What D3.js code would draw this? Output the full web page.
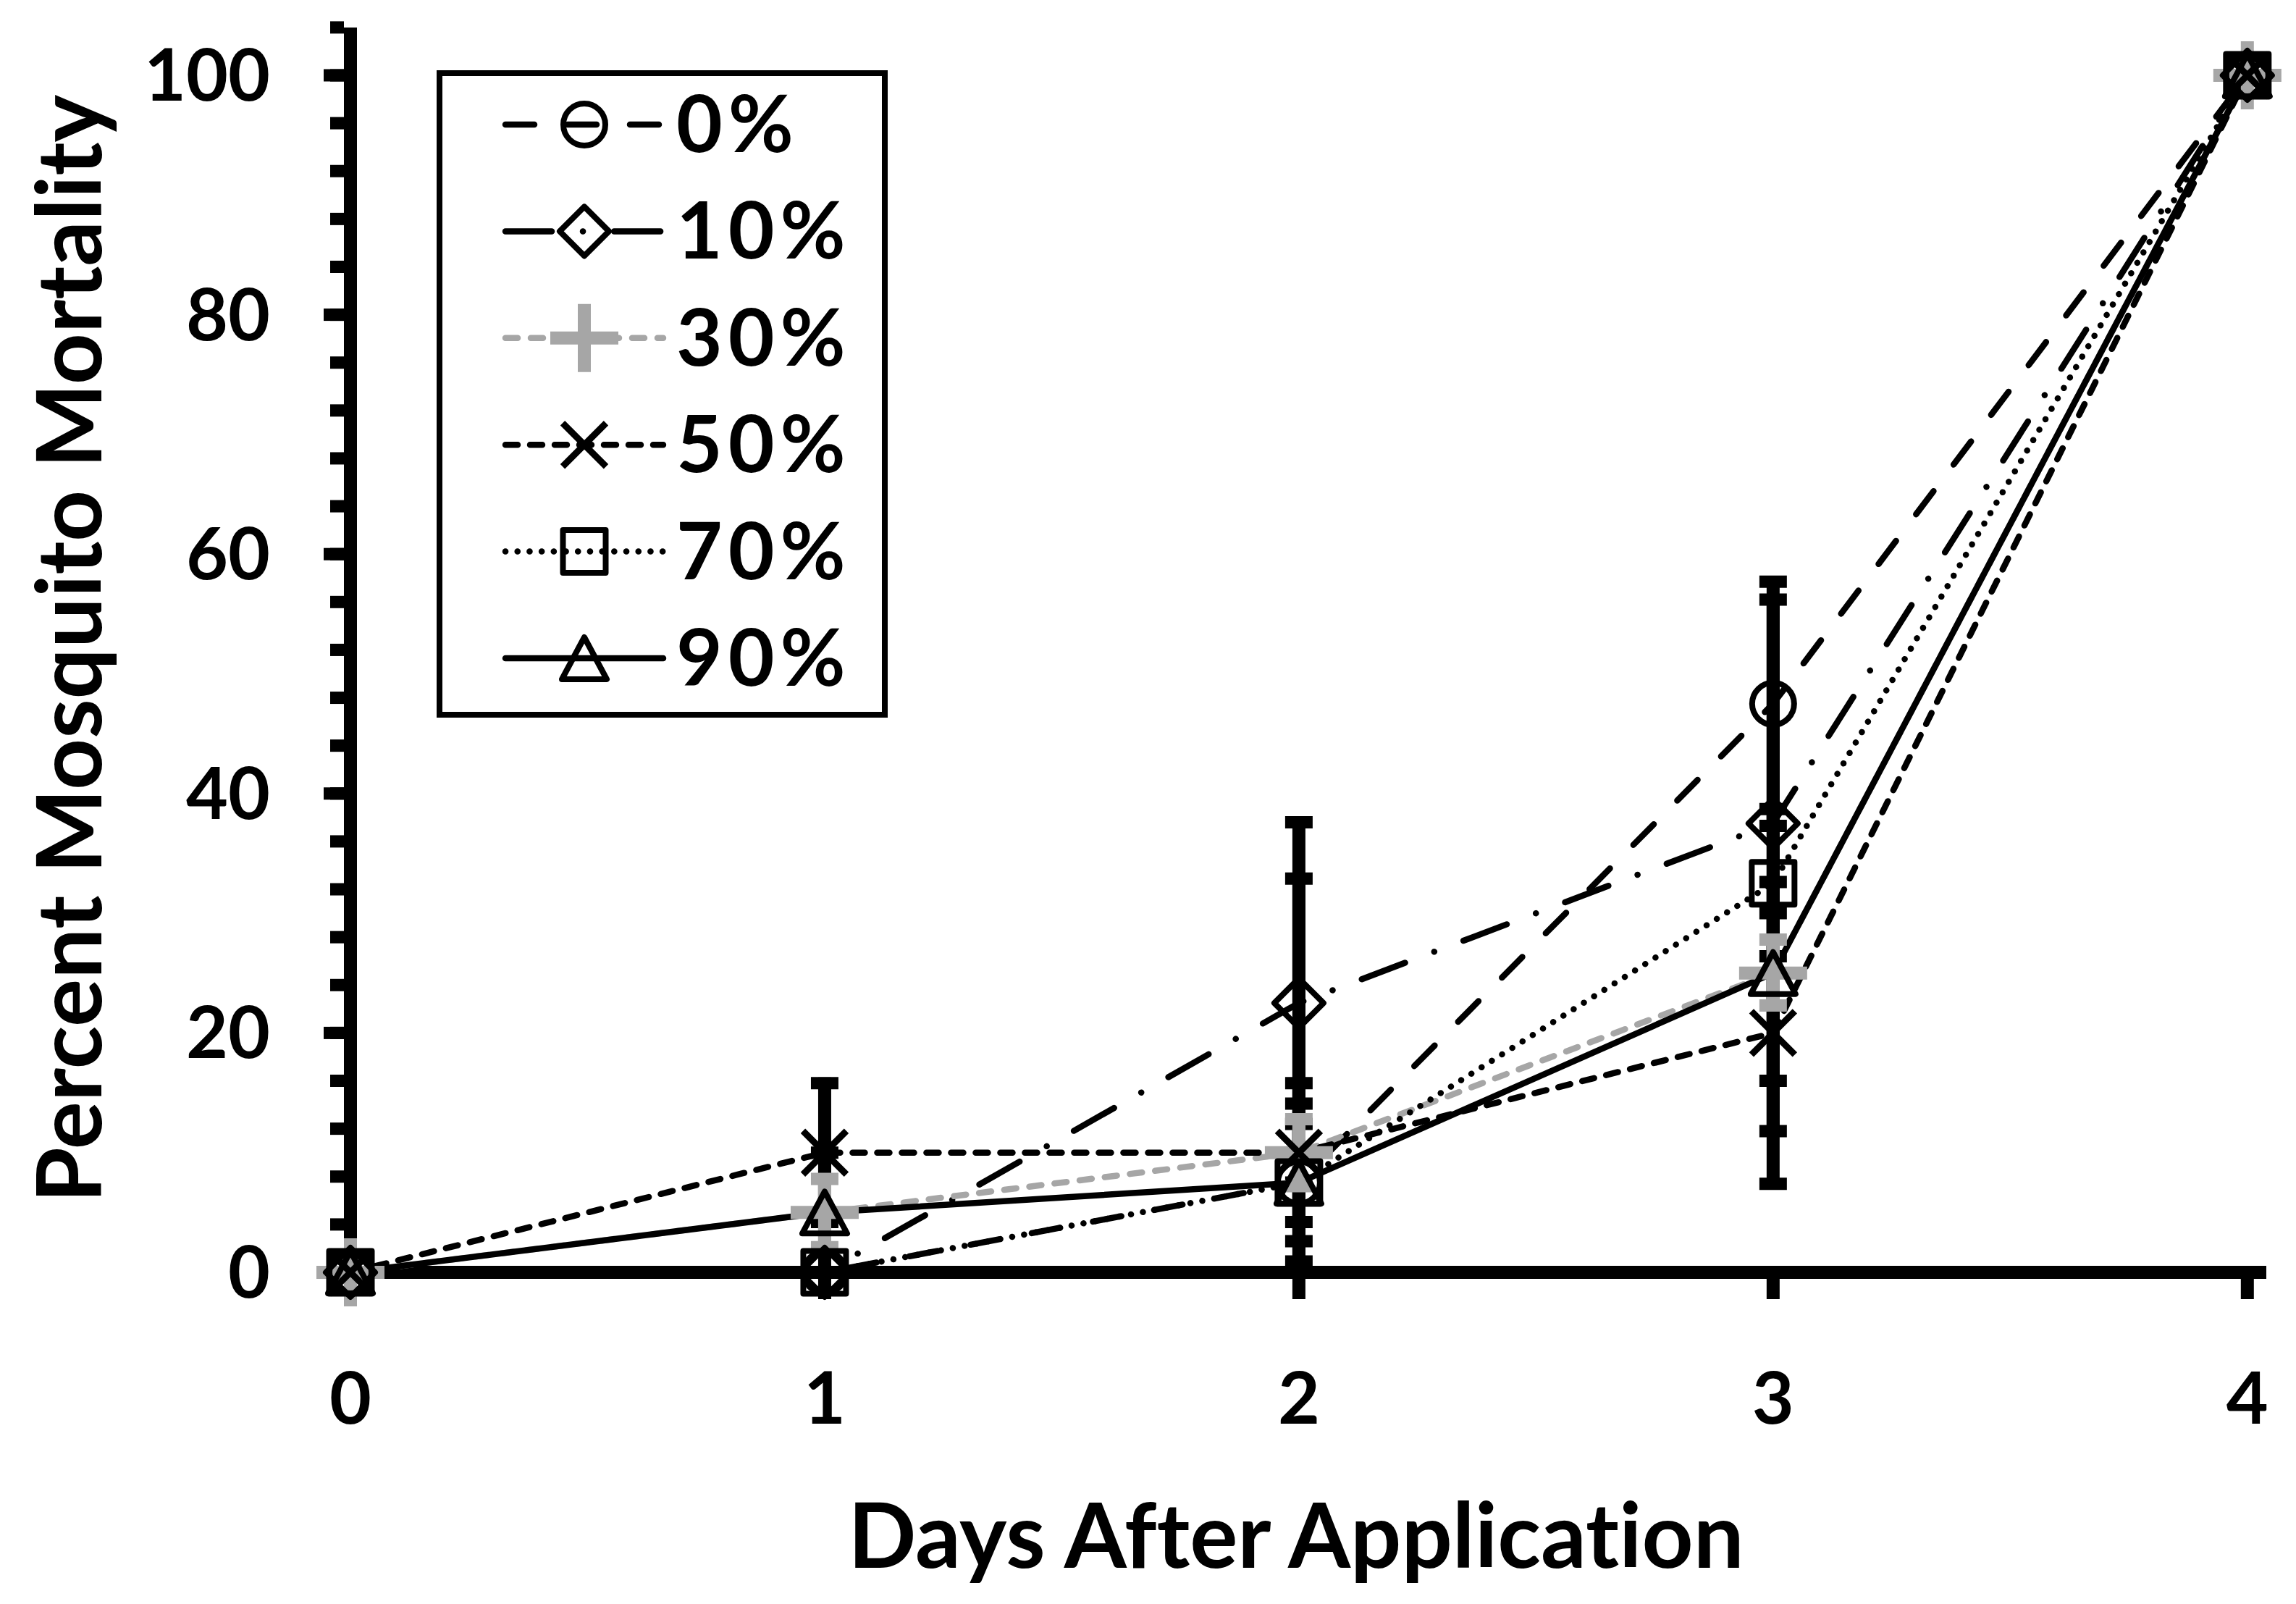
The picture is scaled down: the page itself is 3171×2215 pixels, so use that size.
<!DOCTYPE html>
<html>
<head>
<meta charset="utf-8">
<script src="https://cdn.jsdelivr.net/npm/d3@7"></script>
<style>
  body { margin: 0; background: #fff; }
  text { font-family: Lato, "Open Sans", sans-serif; font-weight: bold; fill: #000;
         font-variant-ligatures: none; font-feature-settings: "liga" 0, "clig" 0; }
</style>
</head>
<body>
<svg id="chart" width="3171" height="2215"></svg>
<script>
(function() {
    var width = 3171, height = 2215

    // data
    var days = [0, 1, 2, 3, 4]
    var labels = ["0%", "10%", "30%", "50%", "70%", "90%"]
    var m0  = [0, 0, 7.5, 47.5, 100]
    var m10 = [0, 0, 22.5, 37.5, 100]
    var m30 = [0, 5, 10, 25, 100]
    var m50 = [0, 10, 10, 20, 100]
    var m70 = [0, 0, 7.5, 32.5, 100]
    var m90 = [0, 5, 7.5, 25, 100]
    // error bar ends (low / high)
    var lo0  = [0, 0, 2.6, 37.3, 100],  hi0  = [0, 0, 12.4, 57.7, 100]
    var lo10 = [0, 0, 7.5, 16.0, 100],  hi10 = [0, 0, 37.6, 56.2, 100]
    var lo30 = [0, 2.1, 7.2, 22.3, 100], hi30 = [0, 7.8, 12.8, 27.8, 100]
    var lo50 = [0, 4.2, 4.2, 7.4, 100], hi50 = [0, 15.8, 15.8, 32.6, 100]
    var lo70 = [0, 0, 0.9, 26.4, 100],  hi70 = [0, 0, 14.1, 38.7, 100]
    var lo90 = [0, 0, 0, 11.8, 100],    hi90 = [0, 10, 32.9, 30.0, 100]
    var yTicks = [0, 20, 40, 60, 80, 100]

    var gray = "#a6a6a6"
    var series = [
        {name: labels[0], vals: m0,  lo: lo0,  hi: hi0,  color: "#000", dash: "40,46",          marker: "circle"},
        {name: labels[1], vals: m10, lo: lo10, hi: hi10, color: "#000", dash: "64,43,0.1,43",   marker: "diamond"},
        {name: labels[2], vals: m30, lo: lo30, hi: hi30, color: gray,   dash: "17,18",          marker: "plus"},
        {name: labels[3], vals: m50, lo: lo50, hi: hi50, color: "#000", dash: "17,17",          marker: "x"},
        {name: labels[4], vals: m70, lo: lo70, hi: hi70, color: "#000", dash: "0.1,16.6",       marker: "square"},
        {name: labels[5], vals: m90, lo: lo90, hi: hi90, color: "#000", dash: null,             marker: "triangle"}
    ]

    var x = d3.scaleLinear().domain([0, 4.04]).range([484, 3130])
    var y = d3.scaleLinear().domain([0, 104]).range([1757, 1757 - 104 * 16.53])

    var svg = d3.select("#chart")
    svg.append("rect").attr("width", width).attr("height", height).attr("fill", "#fff")

    var markerPath = {
        circle: "M-29,0A29,29 0 1,0 29,0A29,29 0 1,0 -29,0Z",
        diamond: "M0,-34L34,0L0,34L-34,0Z",
        square: "M-29.5,-29.5H29.5V29.5H-29.5Z",
        triangle: "M0,-29L31,29L-31,29Z",
        x: "M-30,-30L30,30M-30,30L30,-30",
        plus: "M-47,0H47M0,-47V47"
    }
    function drawMarker(g, s, cx, cy) {
        var p = g.append("path")
            .attr("transform", "translate(" + cx + "," + cy + ")")
            .attr("d", markerPath[s.marker])
            .attr("fill", "none")
            .attr("stroke", s.color)
        if (s.marker == "plus") p.attr("stroke-width", 18)
        else if (s.marker == "x") p.attr("stroke-width", 9)
        else p.attr("stroke-width", 8).attr("stroke-linejoin", "round")
    }

    // axes
    var axes = svg.append("g")
    // minor y ticks every 4
    axes.selectAll(".ymin").data(d3.range(0, 105, 4)).join("line")
        .attr("x1", 475).attr("x2", 475 - 19)
        .attr("y1", (d) => y(d)).attr("y2", (d) => y(d))
        .attr("stroke", "#000").attr("stroke-width", 17)
    axes.selectAll(".ymaj").data(yTicks).join("line")
        .attr("x1", 475).attr("x2", 475 - 28)
        .attr("y1", (d) => y(d)).attr("y2", (d) => y(d))
        .attr("stroke", "#000").attr("stroke-width", 17)
    axes.append("line")
        .attr("x1", x(0)).attr("x2", x(0)).attr("y1", y(0) + 9).attr("y2", y(104))
        .attr("stroke", "#000").attr("stroke-width", 18)
    axes.append("line")
        .attr("x1", x(0)).attr("x2", x(4.04)).attr("y1", y(0)).attr("y2", y(0))
        .attr("stroke", "#000").attr("stroke-width", 18)
    axes.selectAll(".xt").data(days.slice(1)).join("line")
        .attr("x1", (d) => x(d)).attr("x2", (d) => x(d))
        .attr("y1", y(0)).attr("y2", y(0) + 37)
        .attr("stroke", "#000").attr("stroke-width", 18)

    axes.selectAll(".ylab").data(yTicks).join("text")
        .attr("x", 373).attr("y", (d) => y(d) + 35)
        .attr("text-anchor", "end").attr("font-size", 100)
        .text((d) => d)
    axes.selectAll(".xlab").data(days).join("text")
        .attr("x", (d) => x(d)).attr("y", 1966)
        .attr("text-anchor", "middle").attr("font-size", 100)
        .text((d) => d)

    axes.append("text")
        .attr("x", 1790).attr("y", 2165)
        .attr("text-anchor", "middle").attr("font-size", 124)
        .text("Days After Application")
    axes.append("text")
        .attr("transform", "translate(140,896) rotate(-90)")
        .attr("text-anchor", "middle").attr("font-size", 124)
        .text("Percent Mosquito Mortality")

    // series lines
    var line = d3.line().x((d, i) => x(days[i])).y((d) => y(d))
    var lines = svg.append("g")
    series.forEach(function(s) {
        var p = lines.append("path")
            .attr("d", line(s.vals))
            .attr("fill", "none")
            .attr("stroke", s.color)
            .attr("stroke-width", 8.5)
            .attr("stroke-linecap", "round")
        if (s.dash) p.attr("stroke-dasharray", s.dash)
    })

    // error bars, gray drawn on top
    var errs = svg.append("g")
    var order = [0, 1, 3, 4, 5, 2]
    order.forEach(function(k) {
        var s = series[k]
        days.forEach(function(d, i) {
            if (s.hi[i] - s.lo[i] <= 0) return
            var top = y(s.hi[i]), bot = y(Math.max(0, s.lo[i]))
            errs.append("line")
                .attr("x1", x(d)).attr("x2", x(d)).attr("y1", top - 8).attr("y2", bot + (s.lo[i] > 0 ? 8 : 0))
                .attr("stroke", s.color).attr("stroke-width", 18)
            ;[s.hi[i], s.lo[i]].forEach(function(v) {
                if (v == s.vals[i] || v <= 0) return
                errs.append("line")
                    .attr("x1", x(d) - 19).attr("x2", x(d) + 19)
                    .attr("y1", y(v)).attr("y2", y(v))
                    .attr("stroke", s.color).attr("stroke-width", 17)
            })
        })
    })

    // markers, gray plus first
    var marks = svg.append("g")
    ;[2, 0, 1, 3, 4, 5].forEach(function(k) {
        var s = series[k]
        days.forEach(function(d, i) { drawMarker(marks, s, x(d), y(s.vals[i])) })
    })

    // legend
    var leg = svg.append("g")
    leg.append("rect")
        .attr("x", 607).attr("y", 101).attr("width", 615).attr("height", 886)
        .attr("fill", "#fff").attr("stroke", "#000").attr("stroke-width", 8)
    series.forEach(function(s, i) {
        var cy = 172 + i * 147.4
        var p = leg.append("line")
            .attr("x1", 698).attr("x2", 916).attr("y1", cy).attr("y2", cy)
            .attr("stroke", s.color).attr("stroke-width", 8.5)
            .attr("stroke-linecap", "round")
        if (s.dash) p.attr("stroke-dasharray", s.dash)
        drawMarker(leg, s, 807, cy)
        leg.append("text")
            .attr("x", 934).attr("y", cy + 38)
            .attr("font-size", 110)
            .attr("letter-spacing", 8)
            .text(s.name)
    })
})();
</script>
</body>
</html>
